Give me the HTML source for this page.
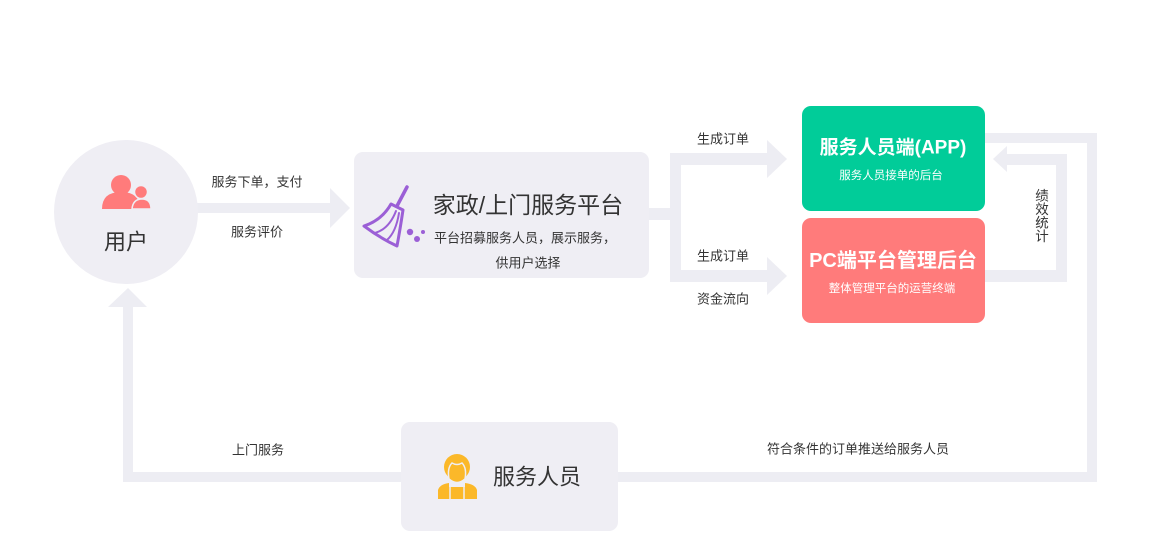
<!DOCTYPE html>
<html><head><meta charset="utf-8">
<style>
html,body{margin:0;padding:0;background:#fff;width:1152px;height:560px;overflow:hidden;}
svg{display:block;}
text{font-family:"Liberation Sans","Noto Sans CJK SC",sans-serif;}
</style></head>
<body>
<svg width="1152" height="560" viewBox="0 0 1152 560" xmlns="http://www.w3.org/2000/svg">
<rect width="1152" height="560" fill="#fff"/>
<g fill="#ededf3">
  <rect x="196" y="203" width="136" height="10"/>
  <polygon points="330,188 350,208 330,228"/>
  <rect x="648" y="208" width="33" height="12"/>
  <rect x="670" y="153" width="11" height="129"/>
  <rect x="670" y="153" width="99" height="12"/>
  <polygon points="767,140 787,159 767,178"/>
  <rect x="670" y="270" width="99" height="12"/>
  <polygon points="767,257 787,276 767,295"/>
  <rect x="984" y="133" width="113" height="10"/>
  <rect x="1087" y="133" width="10" height="349"/>
  <rect x="617" y="472" width="480" height="10"/>
  <rect x="123" y="472" width="279" height="10"/>
  <rect x="123" y="305" width="10" height="177"/>
  <polygon points="108,307 128,288 147,307"/>
  <rect x="984" y="270" width="83" height="12"/>
  <rect x="1056" y="154" width="11" height="128"/>
  <rect x="1005" y="154" width="62" height="11"/>
  <polygon points="1007,146 993,159 1007,172"/>
</g>

<circle cx="126" cy="212" r="72" fill="#efeef4"/>
<g fill="#ff7b7b">
  <circle cx="121" cy="185" r="10"/>
  <path d="M102,209 Q102,192 121,192 Q140,192 140,209 Z"/>
  <circle cx="141" cy="192" r="6.5" stroke="#efeef4" stroke-width="1.5"/>
  <path d="M132,209 Q133,199 142,199 Q151,199 151,209 Z" stroke="#efeef4" stroke-width="1.5"/>
</g>
<text x="126" y="242" font-size="22" fill="#333" text-anchor="middle" dominant-baseline="central">用户</text>

<g font-size="13" fill="#333" text-anchor="middle" dominant-baseline="central">
  <text x="257" y="182">服务下单，支付</text>
  <text x="257" y="232">服务评价</text>
  <text x="723" y="139">生成订单</text>
  <text x="723" y="256">生成订单</text>
  <text x="723" y="299">资金流向</text>
  <text x="258" y="450">上门服务</text>
  <text x="858" y="449">符合条件的订单推送给服务人员</text>
</g>
<g font-size="13.5" fill="#333" text-anchor="middle" dominant-baseline="central">
  <text x="1042" y="196">绩</text>
  <text x="1042" y="209.5">效</text>
  <text x="1042" y="223">统</text>
  <text x="1042" y="236.5">计</text>
</g>

<rect x="354" y="152" width="295" height="126" rx="9" fill="#efeef4"/>
<g stroke="#9b5fd6" fill="none" stroke-linecap="round" stroke-linejoin="round">
  <line x1="407" y1="187" x2="397" y2="206" stroke-width="3.5"/>
  <path d="M391,204 L403,210 Q400,230 397,246 Q380,238 364,226 Q382,220 391,204 Z" stroke-width="3" fill="#efeef4"/>
  <path d="M396,211 Q389,229 375,233" stroke-width="2"/>
  <path d="M399,213 Q396,232 387,240" stroke-width="2"/>
</g>
<g fill="#9b5fd6">
  <circle cx="410" cy="232" r="3.2"/>
  <circle cx="417" cy="239" r="3"/>
  <circle cx="423" cy="232" r="2"/>
</g>
<text x="528" y="205" font-size="23" fill="#333" text-anchor="middle" dominant-baseline="central">家政/上门服务平台</text>
<text x="525" y="238" font-size="13" fill="#333" text-anchor="middle" dominant-baseline="central">平台招募服务人员，展示服务，</text>
<text x="528" y="263" font-size="13" fill="#333" text-anchor="middle" dominant-baseline="central">供用户选择</text>

<rect x="802" y="106" width="183" height="105" rx="9" fill="#01cc99"/>
<text x="893" y="148" font-size="19" font-weight="bold" fill="#fff" text-anchor="middle" dominant-baseline="central">服务人员端(APP)</text>
<text x="891" y="176" font-size="11.5" fill="#fff" text-anchor="middle" dominant-baseline="central">服务人员接单的后台</text>

<rect x="802" y="218" width="183" height="105" rx="9" fill="#ff7b7b"/>
<text x="893" y="261" font-size="20" font-weight="bold" fill="#fff" text-anchor="middle" dominant-baseline="central">PC端平台管理后台</text>
<text x="892" y="289" font-size="11.5" fill="#fff" text-anchor="middle" dominant-baseline="central">整体管理平台的运营终端</text>

<rect x="401" y="422" width="217" height="109" rx="9" fill="#efeef4"/>
<g fill="#fbb829">
  <circle cx="457" cy="467" r="13"/>
  <path d="M438,499 L438,490 Q440,484 449,483 L449,487 L465,487 L465,483 Q475,484 477,490 L477,499 Z"/>
</g>
<path d="M449,479 Q447,468 452,463 Q457,466 462,463 Q467,468 465,479 Q457,486 449,479 Z" fill="#fbb829" stroke="#efeef4" stroke-width="1.5"/>
<line x1="450" y1="486" x2="450" y2="499" stroke="#efeef4" stroke-width="1.5"/>
<line x1="464" y1="486" x2="464" y2="499" stroke="#efeef4" stroke-width="1.5"/>
<text x="537" y="477" font-size="22" fill="#333" text-anchor="middle" dominant-baseline="central">服务人员</text>
</svg>
</body></html>
